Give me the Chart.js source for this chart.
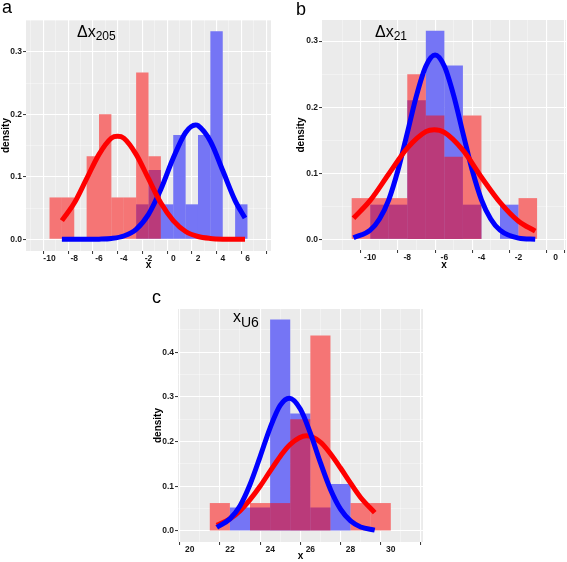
<!DOCTYPE html>
<html>
<head>
<meta charset="utf-8">
<script src="https://cdn.jsdelivr.net/npm/chart.js@4.4.1/dist/chart.umd.min.js"></script>
<style>
  body { margin: 0; background: #fff; width: 567px; height: 562px; position: relative; overflow: hidden;
         font-family: "Liberation Sans", Arial, sans-serif; }
  canvas { position: absolute; }
  .lab { position: absolute; color: #000; white-space: nowrap; line-height: 1; }
  .panel { font-size: 18px; }
  .note { font-size: 16px; }
  .note span { font-size: 12px; position: relative; top: 3px; }
</style>
</head>
<body>
<canvas id="chartA" width="275" height="282" style="left:0;top:0"></canvas>
<canvas id="chartB" width="284" height="282" style="left:283px;top:0"></canvas>
<canvas id="chartC" width="290" height="282" style="left:140px;top:280px"></canvas>

<div class="lab panel" style="left:2px;top:-2px">a</div>
<div class="lab panel" style="left:296px;top:0px">b</div>
<div class="lab panel" style="left:152px;top:288px">c</div>
<div class="lab note" style="left:77px;top:24px">Δx<span>205</span></div>
<div class="lab note" style="left:375px;top:24px">Δx<span>21</span></div>
<div class="lab note" style="left:233px;top:309px">x<span style="font-size:14px;top:5px">U6</span></div>

<script>
// ---- panel a : Δx205 ----
const binsA = [-10, -9, -8, -7, -6, -5, -4, -3, -2, -1, 0, 1, 2, 3, 4, 5];
const redHistA = [0.067, 0.067, 0, 0.133, 0.2, 0.067, 0.067, 0.267, 0.133, 0, 0, 0, 0, 0, 0, 0];
const blueHistA = [0, 0, 0, 0, 0, 0, 0, 0.056, 0.111, 0.056, 0.167, 0.056, 0.167, 0.333, 0, 0.056];
const redCurveXA = [-9, -8, -7, -6, -5, -4.5, -4, -3, -2, -1, 0, 1, 2, 3, 4, 5, 5.8];
const redCurveA = [0.030, 0.058, 0.097, 0.136, 0.162, 0.165, 0.162, 0.136, 0.097, 0.058, 0.030, 0.0125, 0.0045, 0.0014, 0.0003, 0.0001, 0];
const blueCurveXA = [-9, -8, -7, -6, -5, -4, -3, -2, -1, 0, 1, 1.8, 2, 3, 4, 5, 5.8];
const blueCurveA = [0, 0, 0.00005, 0.0003, 0.0014, 0.0053, 0.016, 0.040, 0.080, 0.130, 0.171, 0.183, 0.182, 0.157, 0.110, 0.062, 0.034];
const xTicksA = [-10, -8, -6, -4, -2, 0, 2, 4, 6];
const yTicksA = [0, 0.1, 0.2, 0.3];

// ---- panel b : Δx21 ----
const binsB = [-11, -10, -9, -8, -7, -6, -5, -4, -3, -2];
const redHistB = [0.0625, 0.0625, 0.0625, 0.25, 0.1875, 0.125, 0.1875, 0, 0, 0.0625];
const blueHistB = [0, 0.0526, 0.0526, 0.2105, 0.3158, 0.2632, 0.0526, 0, 0.0526, 0];
const redCurveXB = [-10.9, -10, -9, -8, -7, -6.55, -6, -5, -4, -3, -2, -1.1];
const redCurveB = [0.032, 0.059, 0.099, 0.138, 0.163, 0.166, 0.162, 0.135, 0.094, 0.056, 0.0275, 0.0126];
const blueCurveXB = [-10.9, -10, -9.5, -9, -8.5, -8, -7.5, -7, -6.5, -6, -5.5, -5, -4.5, -4, -3.5, -3, -2, -1.1];
const blueCurveB = [0.0025, 0.014, 0.031, 0.060, 0.105, 0.161, 0.218, 0.262, 0.279, 0.262, 0.218, 0.161, 0.105, 0.060, 0.031, 0.014, 0.002, 0.0002];
const xTicksB = [-10, -8, -6, -4, -2, 0];
const yTicksB = [0, 0.1, 0.2, 0.3];

// ---- panel c : xU6 ----
const binsC = [21, 22, 23, 24, 25, 26, 27, 28, 29];
const redHistC = [0.0625, 0, 0.0625, 0.0625, 0.25, 0.4375, 0, 0.0625, 0.0625];
const blueHistC = [0, 0.0526, 0.0526, 0.4737, 0.2632, 0.0526, 0.1053, 0, 0];
const redCurveXC = [21.35, 22, 22.5, 23, 23.5, 24, 24.5, 25, 25.8, 26.5, 27, 27.5, 28, 28.5, 29.2];
const redCurveC = [0.0127, 0.027, 0.045, 0.070, 0.100, 0.134, 0.167, 0.194, 0.213, 0.199, 0.173, 0.141, 0.107, 0.075, 0.041];
const blueCurveXC = [21.35, 22, 22.5, 23, 23.5, 24, 24.5, 24.95, 25.5, 26, 26.5, 27, 27.5, 28, 28.5, 29.2];
const blueCurveC = [0.008, 0.027, 0.056, 0.104, 0.166, 0.231, 0.281, 0.297, 0.273, 0.219, 0.153, 0.093, 0.049, 0.0225, 0.009, 0.002];
const xTicksC = [20, 22, 24, 26, 28, 30];
const yTicksC = [0, 0.1, 0.2, 0.3, 0.4];

const RED = "#ff0000", BLUE = "#0000ff";
const RED_FILL = "rgba(255,0,0,0.5)", BLUE_FILL = "rgba(0,0,255,0.5)";
const PANEL_GRAY = "#ebebeb";

// gray ggplot panel
const panelBg = {
  id: "panelBg",
  beforeDraw(chart) {
    const a = chart.chartArea, ctx = chart.ctx;
    ctx.save();
    ctx.fillStyle = PANEL_GRAY;
    ctx.fillRect(a.left, a.top, a.right - a.left, a.bottom - a.top);
    ctx.restore();
  }
};

// major ticks + minor ones halfway between (also past the ends if in range)
function withMinor(major, min, max) {
  const step = major[1] - major[0];
  const out = major.map(v => ({ value: v }));
  for (let v = major[0] - step / 2; v <= max; v += step) {
    if (v >= min) out.push({ value: +v.toFixed(4), minor: true });
  }
  return out.sort((p, q) => p.value - q.value);
}

function axis(ticks, min, max, size, title, titlePad, fmt, horizontal) {
  return {
    type: "linear",
    min: min, max: max,
    offset: false,
    afterBuildTicks: s => { s.ticks = withMinor(ticks, min, max); },
    afterFit: s => { if (horizontal) s.height = size; else s.width = size; },
    grid: {
      color: c => c.tick && c.tick.minor ? "rgba(255,255,255,0.75)" : "#ffffff",
      lineWidth: c => c.tick && c.tick.minor ? 0.5 : 1.1,
      tickColor: c => c.tick && c.tick.minor ? "rgba(0,0,0,0)" : "#333333",
      tickLength: 3,
      tickWidth: 1
    },
    border: { display: false },
    ticks: {
      autoSkip: false, maxRotation: 0,
      padding: horizontal ? 0 : 1,
      color: "#1a1a1a",
      font: { family: "Liberation Sans", size: 8.5, weight: "bold" },
      callback: (v, i, t) => t[i].minor ? "" : fmt(v)
    },
    title: {
      display: true, text: title, color: "#000",
      font: { family: "Liberation Sans", size: 10, weight: "bold" },
      padding: horizontal ? { top: 0, bottom: titlePad } : { top: titlePad, bottom: 0 }
    }
  };
}

function drawPanel(id, p) {
  const bars = (bins, vals) => bins.map((b, i) => ({ x: b + 0.5, y: vals[i] }));
  const pts = (xs, ys) => xs.map((x, i) => ({ x: x, y: ys[i] }));
  const line = (data, color, order) => ({
    type: "line", data: data, borderColor: color, borderWidth: 5,
    pointRadius: 0, cubicInterpolationMode: "monotone", fill: false, order: order
  });
  const hist = (data, color, order) => ({
    type: "bar", data: data, backgroundColor: color, borderWidth: 0, inflateAmount: 0,
    barPercentage: 1, categoryPercentage: 1, grouped: false, order: order
  });
  // opaque panel-coloured bars under the see-through ones so grid lines don't shine through
  const cover = p.redHist.map((r, i) => Math.max(r, p.blueHist[i]));
  const redOrder = p.blueOnTop ? 1 : 0;
  new Chart(document.getElementById(id), {
    type: "bar",
    data: {
      datasets: [
        line(pts(p.redX, p.redY), RED, redOrder),
        line(pts(p.blueX, p.blueY), BLUE, 1 - redOrder),
        hist(bars(p.bins, p.redHist), RED_FILL, 2),
        hist(bars(p.bins, p.blueHist), BLUE_FILL, 3),
        hist(bars(p.bins, cover), PANEL_GRAY, 4)
      ]
    },
    options: {
      responsive: false,
      animation: false,
      layout: { padding: { left: 0, top: p.top, right: p.right, bottom: 0 } },
      plugins: { legend: { display: false }, tooltip: { enabled: false } },
      scales: {
        x: axis(p.xTicks, p.xMin, p.xMax, p.xh, "x", p.xTitlePad, v => String(v), true),
        y: axis(p.yTicks, p.yMin, p.yMax, p.yw, "density", p.yTitlePad, v => v.toFixed(1), false)
      }
    },
    plugins: [panelBg]
  });
}

drawPanel("chartA", {
  bins: binsA, redHist: redHistA, blueHist: blueHistA,
  redX: redCurveXA, redY: redCurveA, blueX: blueCurveXA, blueY: blueCurveA,
  xTicks: xTicksA, yTicks: yTicksA, xMin: -11.9, xMax: 7.9, yMin: -0.0187, yMax: 0.351,
  top: 20, right: 4, yw: 26, xh: 31, xTitlePad: 11, yTitlePad: 0, blueOnTop: false
});
drawPanel("chartB", {
  bins: binsB, redHist: redHistB, blueHist: blueHistB,
  redX: redCurveXB, redY: redCurveB, blueX: blueCurveXB, blueY: blueCurveB,
  xTicks: xTicksB, yTicks: yTicksB, xMin: -12.6, xMax: 0.56, yMin: -0.016, yMax: 0.332,
  top: 20, right: 1, yw: 39, xh: 32, xTitlePad: 11, yTitlePad: 12, blueOnTop: false
});
drawPanel("chartC", {
  bins: binsC, redHist: redHistC, blueHist: blueHistC,
  redX: redCurveXC, redY: redCurveC, blueX: blueCurveXC, blueY: blueCurveC,
  xTicks: xTicksC, yTicks: yTicksC, xMin: 19.42, xMax: 31.6, yMin: -0.0247, yMax: 0.497,
  top: 29, right: 7, yw: 38, xh: 20, xTitlePad: 0, yTitlePad: 12, blueOnTop: true
});
</script>
</body>
</html>
